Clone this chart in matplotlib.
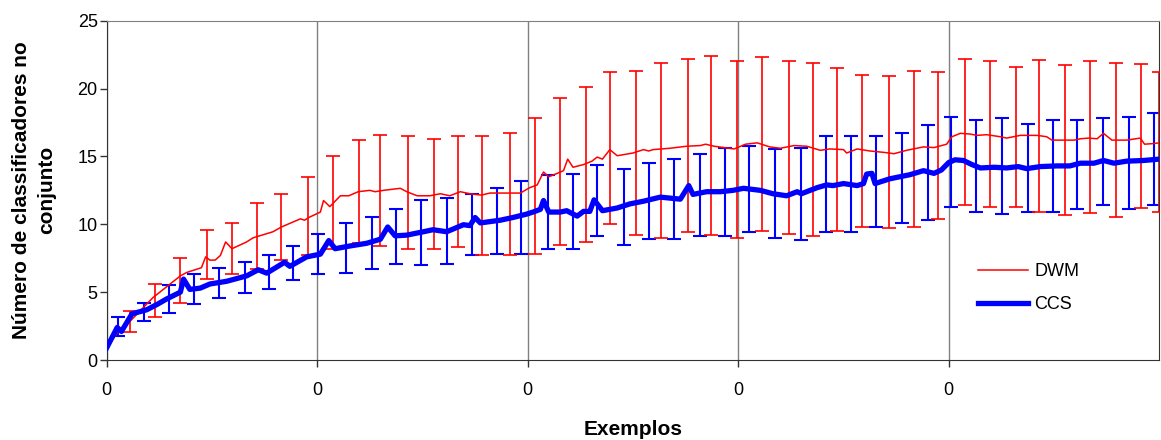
import matplotlib
matplotlib.use("Agg")
import matplotlib.pyplot as plt

plt.rcParams["font.family"] = ["Liberation Sans", "DejaVu Sans"]

# DWM mean number of classifiers (thin red line)
dwm_x = [0, 10, 19, 44, 70, 76, 90, 94, 98, 103, 108, 113, 119, 133, 139, 158, 166, 184, 188, 192,
         203, 206, 212, 222, 230, 239, 250, 255, 263, 279, 285, 295, 307, 317, 326, 336, 345, 356, 364, 380,
         393, 402, 409, 415, 420, 428, 434, 438, 443, 453, 461, 466, 471, 478, 485, 500, 510, 515, 519, 535,
         551, 564, 569, 577, 596, 607, 618, 630, 640, 653, 665, 678, 687, 700, 703, 713, 725, 738, 748, 760,
         776, 786, 798, 803, 811, 820, 827, 836, 849, 855, 868, 884, 893, 898, 919, 925, 933, 941, 947, 955,
         969, 982, 986, 995, 1000]
dwm_y = [0.9, 2.0, 2.6, 4.6, 6.2, 6.45, 6.8, 7.6, 7.36, 7.36, 7.7, 8.7, 8.2, 8.7, 9.0, 9.45, 9.8, 10.4, 10.3, 10.5,
         10.9, 11.75, 11.3, 12.1, 12.1, 12.4, 12.5, 12.4, 12.5, 12.65, 12.4, 12.1, 12.1, 12.25, 12.1, 12.4, 12.25, 12.15, 12.3, 12.3,
         12.3, 12.7, 12.9, 13.85, 13.5, 13.75, 13.95, 14.8, 14.2, 14.4, 14.65, 14.95, 14.8, 15.5, 15.05, 15.25, 15.5, 15.4, 15.5, 15.6,
         15.75, 15.8, 15.9, 15.75, 15.55, 15.9, 16.0, 15.7, 15.6, 15.8, 15.75, 15.45, 15.55, 15.5, 15.25, 15.55, 15.4, 15.3, 15.2, 15.45,
         15.7, 15.65, 15.9, 16.45, 16.7, 16.65, 16.55, 16.6, 16.45, 16.35, 16.55, 16.55, 16.45, 16.2, 16.2, 16.3, 16.35, 16.3, 16.7, 16.2,
         16.2, 16.35, 15.9, 15.95, 16.0]

# CCS mean number of classifiers (thick blue line)
ccs_x = [0, 10, 14, 24, 38, 48, 57, 70, 73, 79, 89, 98, 114, 133, 144, 152, 169, 174, 190, 203,
         211, 217, 231, 247, 260, 267, 274, 285, 301, 310, 323, 339, 345, 350, 355, 374, 386, 399, 405, 412,
         415, 420, 431, 437, 447, 453, 459, 463, 471, 485, 497, 510, 526, 545, 553, 557, 570, 583, 595, 605,
         621, 633, 646, 656, 660, 675, 684, 690, 700, 713, 719, 722, 727, 730, 744, 763, 776, 786, 793, 800,
         806, 814, 822, 830, 843, 855, 866, 874, 887, 903, 915, 925, 938, 947, 957, 969, 985, 1000]
ccs_y = [0.9, 2.4, 2.1, 3.4, 3.7, 4.1, 4.5, 5.0, 5.96, 5.2, 5.3, 5.6, 5.8, 6.2, 6.65, 6.4, 7.2, 6.9, 7.6, 7.8,
         8.8, 8.2, 8.4, 8.6, 8.9, 9.8, 9.15, 9.2, 9.45, 9.6, 9.45, 9.97, 9.9, 10.5, 10.1, 10.3, 10.5, 10.75, 10.9, 11.1,
         11.75, 10.9, 10.9, 11.0, 10.6, 10.95, 10.95, 11.8, 11.0, 11.2, 11.5, 11.7, 12.0, 11.85, 12.85, 12.2, 12.4, 12.4, 12.5, 12.65,
         12.5, 12.25, 12.1, 12.4, 12.25, 12.7, 12.9, 12.85, 13.0, 12.85, 13.0, 13.7, 13.75, 13.0, 13.35, 13.65, 13.95, 13.75, 14.0, 14.55,
         14.75, 14.7, 14.4, 14.15, 14.2, 14.15, 14.25, 14.1, 14.25, 14.3, 14.3, 14.5, 14.5, 14.7, 14.5, 14.65, 14.7, 14.8]

# error bars (mean +- std) at sampled points
dwm_bar_x = [22, 46, 70, 95, 119, 143, 166, 191, 215, 240, 260, 286, 311, 334, 357, 383, 407, 431, 455, 478,
             503, 527, 552, 574, 599, 623, 648, 671, 694, 718, 743, 767, 790, 815, 839, 864, 886, 910, 934, 959,
             983, 1000]
dwm_bar_mean = [2.84, 4.4, 5.85, 7.8, 8.2, 9.15, 9.8, 10.6, 11.6, 12.4, 12.5, 12.35, 12.25, 12.4, 12.1, 12.2, 12.8, 13.9, 14.4, 15.6,
                15.25, 15.45, 15.8, 15.8, 15.5, 15.9, 15.65, 15.5, 15.5, 15.4, 15.3, 15.55, 15.8, 16.8, 16.65, 16.45, 16.5, 16.2, 16.4, 16.2,
                16.5, 16.05]
dwm_bar_std = [0.77, 1.2, 1.65, 1.8, 1.9, 2.45, 2.4, 2.9, 3.4, 3.8, 4.1, 4.15, 4.05, 4.1, 4.4, 4.5, 5.0, 5.4, 5.7, 5.6,
               6.05, 6.45, 6.4, 6.6, 6.5, 6.4, 6.35, 6.35, 6.0, 5.6, 5.6, 5.75, 5.4, 5.35, 5.35, 5.15, 5.6, 5.5, 5.6, 5.7,
               5.3, 5.15]

ccs_bar_x = [11, 35, 59, 83, 107, 131, 154, 177, 201, 227, 252, 275, 299, 323, 347, 371, 394, 419, 443, 466,
             491, 515, 539, 564, 587, 610, 635, 660, 683, 707, 731, 756, 780, 802, 826, 851, 875, 899, 922, 947,
             971, 995]
ccs_bar_mean = [2.5, 3.55, 4.48, 5.2, 5.68, 6.05, 6.48, 7.15, 7.8, 8.25, 8.6, 9.1, 9.38, 9.5, 9.95, 10.22, 10.5, 10.9, 10.95, 11.78,
                11.3, 11.7, 11.85, 12.18, 12.38, 12.58, 12.28, 12.22, 12.95, 12.95, 13.15, 13.38, 13.82, 14.62, 14.28, 14.28, 14.15, 14.28, 14.38, 14.62,
                14.52, 14.82]
ccs_bar_std = [0.7, 0.65, 1.02, 1.1, 1.12, 1.15, 1.28, 1.25, 1.5, 1.85, 1.9, 2.0, 2.38, 2.4, 2.25, 2.42, 2.7, 2.7, 2.75, 2.62,
               2.8, 2.8, 2.95, 3.02, 3.22, 3.18, 3.28, 3.38, 3.55, 3.55, 3.35, 3.32, 3.48, 3.32, 3.38, 3.52, 3.25, 3.38, 3.28, 3.18,
               3.42, 3.38]

x_ticks = [0, 200, 400, 600, 800]
x_tick_labels = ["0", "0", "0", "0", "0"]

fig = plt.figure(figsize=(11.61, 4.4), dpi=100)
ax = fig.add_axes([0.0919, 0.1818, 0.9066, 0.7712])

ax.errorbar(ccs_bar_x, ccs_bar_mean, yerr=ccs_bar_std, fmt="none", ecolor="#0000ff",
            elinewidth=1.5, capsize=5, capthick=1.5, zorder=2)
ax.errorbar(dwm_bar_x, dwm_bar_mean, yerr=dwm_bar_std, fmt="none", ecolor="#ff0000",
            elinewidth=1.2, capsize=5, capthick=1.2, zorder=3)
ax.plot(dwm_x, dwm_y, color="#ff0000", lw=1.1, label="DWM", zorder=4)
ax.plot(ccs_x, ccs_y, color="#0000ff", lw=3.8, label="CCS", zorder=5, solid_joinstyle="round")

ax.set_xlim(0, 1000)
ax.set_ylim(0, 25)
ax.set_xticks(x_ticks)
ax.set_xticklabels(x_tick_labels)
ax.set_yticks([0, 5, 10, 15, 20, 25])
ax.tick_params(axis="both", labelsize=13, length=5, width=1, color="#333333", direction="out")
ax.tick_params(axis="x", pad=11)
ax.tick_params(axis="y", pad=1.5)

plt.grid(axis="x", color="#808080", lw=1)
plt.grid(axis="y", visible=False)
ax.set_axisbelow(True)

ax.spines["left"].set_color("#333333")
ax.spines["bottom"].set_color("#333333")
ax.spines["top"].set_color("#808080")
ax.spines["right"].set_color("#333333")

plt.xlabel("Exemplos", fontsize=15, fontweight="bold", labelpad=15)
plt.ylabel("Número de classificadores no\nconjunto", fontsize=15, fontweight="bold", linespacing=1.4)
ax.yaxis.set_label_coords(-0.048, 0.5)

ax.legend(loc="upper left", bbox_to_anchor=(0.842, 0.402), bbox_transform=fig.transFigure,
          frameon=False, fontsize=13, handlelength=2.8, handletextpad=0.35,
          borderpad=0, borderaxespad=0, labelspacing=0.9)

plt.savefig("out.png", dpi=100)
